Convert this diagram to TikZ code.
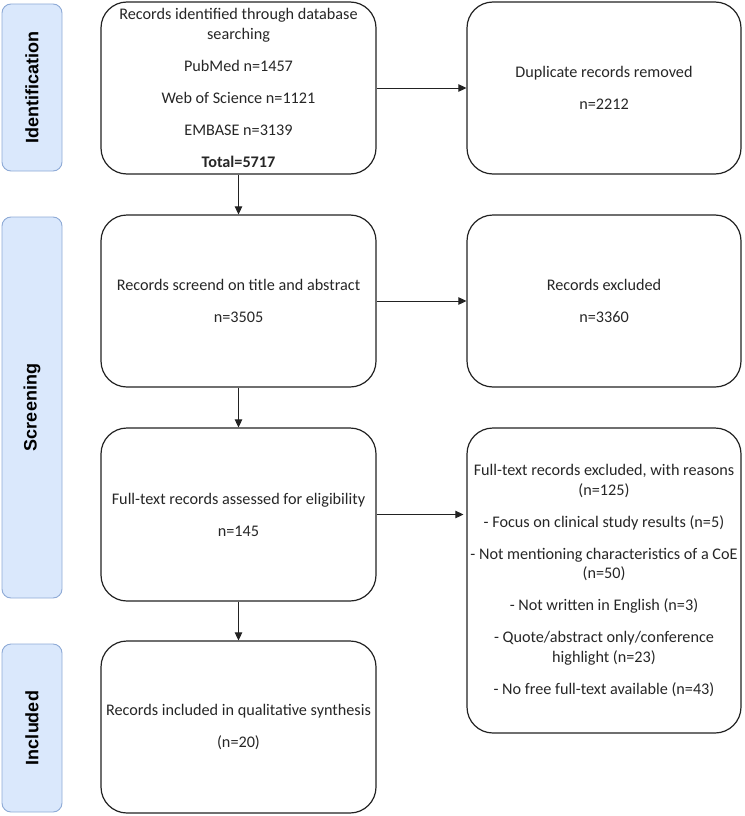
\documentclass[tikz,border=0pt]{standalone}
\usepackage{fontspec}
\setmainfont{Carlito}
\newfontfamily\labfont{Liberation Sans}
\usetikzlibrary{arrows.meta}
\definecolor{sidefill}{HTML}{DAE8FC}
\definecolor{sideline}{HTML}{8EAAD6}
\definecolor{boxline}{HTML}{222222}
\tikzset{
  stagebox/.style={draw=boxline, line width=1.2pt, rounded corners=26pt, align=center,
    inner sep=0pt, font=\fontsize{16.2}{19.5}\selectfont, text=black!85},
  phase/.style={draw=sideline, fill=sidefill, line width=0.9pt, rounded corners=9pt,
    rotate=90, inner sep=0pt, minimum height=60pt, font=\labfont\bfseries\fontsize{18}{20}\selectfont},
  arr/.style={draw=boxline, line width=1pt, -{Triangle[length=8pt,width=7.5pt]}}
}
\begin{document}
\begin{tikzpicture}[x=1pt,y=-1pt]
\useasboundingbox (0,0) rectangle (744,816);
% phase labels
\node[phase, minimum width=167pt] (pid) at (32,87.5) {Identification};
\node[phase, minimum width=381pt] (psc) at (32,407.5) {Screening};
\node[phase, minimum width=168pt] (pin) at (32,728) {Included};
% left boxes
\node[stagebox, minimum width=275pt, minimum height=172pt] (id) at (238.5,88)
  {Records identified through database\\searching\\[12.5pt]PubMed n=1457\\[12.5pt]Web of Science n=1121\\[12.5pt]EMBASE n=3139\\[12.5pt]\textbf{Total=5717}};
\node[stagebox, minimum width=275pt, minimum height=172pt] (sc) at (238.5,301)
  {Records screend on title and abstract\\[12.5pt]n=3505};
\node[stagebox, minimum width=275pt, minimum height=173pt] (ft) at (238.5,514.5)
  {Full-text records assessed for eligibility\\[12.5pt]n=145};
\node[stagebox, minimum width=275pt, minimum height=172pt] (inc) at (238.5,727)
  {Records included in qualitative synthesis\\[12.5pt](n=20)};
% right boxes
\node[stagebox, minimum width=274pt, minimum height=172pt] (dup) at (604,88)
  {Duplicate records removed\\[12.5pt]n=2212};
\node[stagebox, minimum width=274pt, minimum height=172pt] (exc) at (604,301)
  {Records excluded\\[12.5pt]n=3360};
\node[stagebox, minimum width=274pt, minimum height=305pt] (fx) at (604,580.5)
  {Full-text records excluded, with reasons\\(n=125)\\[12.5pt]- Focus on clinical study results (n=5)\\[12.5pt]- Not mentioning characteristics of a CoE\\(n=50)\\[12.5pt]- Not written in English (n=3)\\[12.5pt]- Quote/abstract only/conference\\highlight (n=23)\\[12.5pt]- No free full-text available (n=43)};
% connectors
\draw[arr] (id.east) -- (dup.west);
\draw[arr] (sc.east) -- (exc.west);
\draw[arr, shorten >=3pt] (ft.east) -- (ft.east -| fx.west);
\draw[arr] (id.south) -- (sc.north);
\draw[arr] (sc.south) -- (ft.north);
\draw[arr] (ft.south) -- (inc.north);
\end{tikzpicture}
\end{document}
